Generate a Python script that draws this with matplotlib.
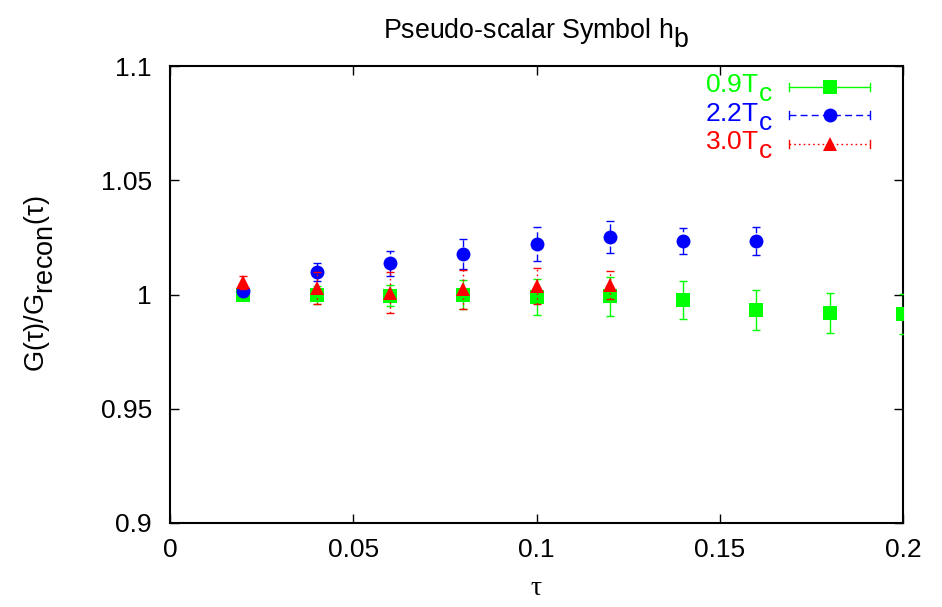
import matplotlib
matplotlib.use("Agg")
import matplotlib.pyplot as plt
from matplotlib.lines import Line2D
import matplotlib._mathtext as _mt

plt.rcParams['font.family'] = ['Liberation Sans', 'DejaVu Sans']
plt.rcParams['mathtext.fontset'] = 'custom'
plt.rcParams['mathtext.rm'] = 'Liberation Sans'

# Full-size, well-dropped subscripts (gnuplot style)
_mt.SHRINK_FACTOR = 1.0
_mt.FontConstantsBase.sub1 = 0.66

# Ratio G(tau)/G_recon(tau) for three temperatures
tau_09 = [0.02, 0.04, 0.06, 0.08, 0.10, 0.12, 0.14, 0.16, 0.18, 0.20]
ratio_09 = [1.000, 0.9998, 0.9995, 1.000, 0.999, 0.9993, 0.9976, 0.9932, 0.992, 0.9915]
err_09 = [0.001, 0.004, 0.0045, 0.0065, 0.008, 0.0085, 0.0082, 0.0086, 0.0087, 0.0087]

tau_22 = [0.02, 0.04, 0.06, 0.08, 0.10, 0.12, 0.14, 0.16]
ratio_22 = [1.0015, 1.010, 1.0137, 1.0177, 1.0221, 1.0253, 1.0235, 1.0235]
err_22 = [0.002, 0.004, 0.0055, 0.0065, 0.0073, 0.007, 0.0057, 0.006]

tau_30 = [0.02, 0.04, 0.06, 0.08, 0.10, 0.12]
ratio_30 = [1.0053, 1.003, 1.0008, 1.0023, 1.0037, 1.0042]
err_30 = [0.003, 0.007, 0.009, 0.0085, 0.008, 0.006]

labels = ['0.9T_c', '2.2T_c', '3.0T_c']
colors = ['#00ff00', '#0000ff', '#ff0000']
markers = ['s', 'o', '^']
linestyles = ['-', (0, (5, 3)), (0, (1.2, 2.2))]

xticks = [0, 0.05, 0.1, 0.15, 0.2]
xticklabels = ['0', '0.05', '0.1', '0.15', '0.2']
yticks = [0.9, 0.95, 1.0, 1.05, 1.1]
yticklabels = ['0.9', '0.95', '1', '1.05', '1.1']

W, H = 942, 607
L, R, T, B = 170, 903, 66, 523
fig = plt.figure(figsize=(W / 100, H / 100), dpi=100)
ax = fig.add_axes([L / W, 1 - B / H, (R - L) / W, (B - T) / H])

series = [(tau_09, ratio_09, err_09), (tau_22, ratio_22, err_22), (tau_30, ratio_30, err_30)]
for i, (x, y, e) in enumerate(series):
    _, caps, bars = ax.errorbar(x, y, yerr=e, fmt='none', ecolor=colors[i],
                                elinewidth=1.0, capsize=2.9, capthick=1.0,
                                zorder=3 + 2 * i)
    for b in bars:
        b.set_linestyle(linestyles[i])
    ax.plot(x, y, linestyle='none', marker=markers[i], color=colors[i],
            markersize=10 if i < 2 else 10.5, markeredgewidth=0, zorder=4 + 2 * i)

ax.set_xlim(0, 0.2)
ax.set_ylim(0.9, 1.1)
ax.set_xticks(xticks)
ax.set_xticklabels(xticklabels)
ax.set_yticks(yticks)
ax.set_yticklabels(yticklabels)
ax.tick_params(direction='in', length=6.5, width=1.0, labelsize=19,
               top=True, right=True)
ax.tick_params(axis='y', pad=13)
ax.tick_params(axis='x', pad=11)
for s in ax.spines.values():
    s.set_linewidth(1.5)

ax.set_title(r'Pseudo-scalar Symbol $\mathregular{h_b}$', fontsize=19.3, pad=20)
ax.set_ylabel(r'$\mathregular{G(τ)/G_{recon}(τ)}$', fontsize=19.5)
ax.yaxis.set_label_coords((56 - L) / (R - L), 1 - (284 - T) / (B - T))
ax.set_xlabel('τ', fontsize=20, family=['Liberation Serif', 'DejaVu Serif'], labelpad=10)

# Key in the upper right corner: label, then a sample line with caps and marker
row_px = [86.5, 115, 143.5]
text_x = (773 - L) / (R - L)
line_x0 = (789 - L) / (R - L)
line_x1 = (870 - L) / (R - L)
cap_h = 4 / (B - T)
for i in range(3):
    yy = 1 - (row_px[i] - T) / (B - T)
    yb = 1 - (row_px[i] + 6.3 - T) / (B - T)
    ax.text(text_x, yb, r'$\mathregular{' + labels[i] + '}$', color=colors[i],
            fontsize=19, ha='right', va='baseline', transform=ax.transAxes)
    ax.add_line(Line2D([line_x0, line_x1], [yy, yy], color=colors[i], lw=1.0,
                       linestyle=linestyles[i], transform=ax.transAxes, zorder=10))
    for cx in (line_x0, line_x1):
        ax.add_line(Line2D([cx, cx], [yy - cap_h, yy + cap_h], color=colors[i], lw=1.0,
                           transform=ax.transAxes, zorder=10))
    ax.add_line(Line2D([(line_x0 + line_x1) / 2], [yy], marker=markers[i],
                       color=colors[i], markersize=10 if i < 2 else 10.5,
                       markeredgewidth=0, linestyle='none',
                       transform=ax.transAxes, zorder=11))

fig.savefig('out.png', dpi=100)
